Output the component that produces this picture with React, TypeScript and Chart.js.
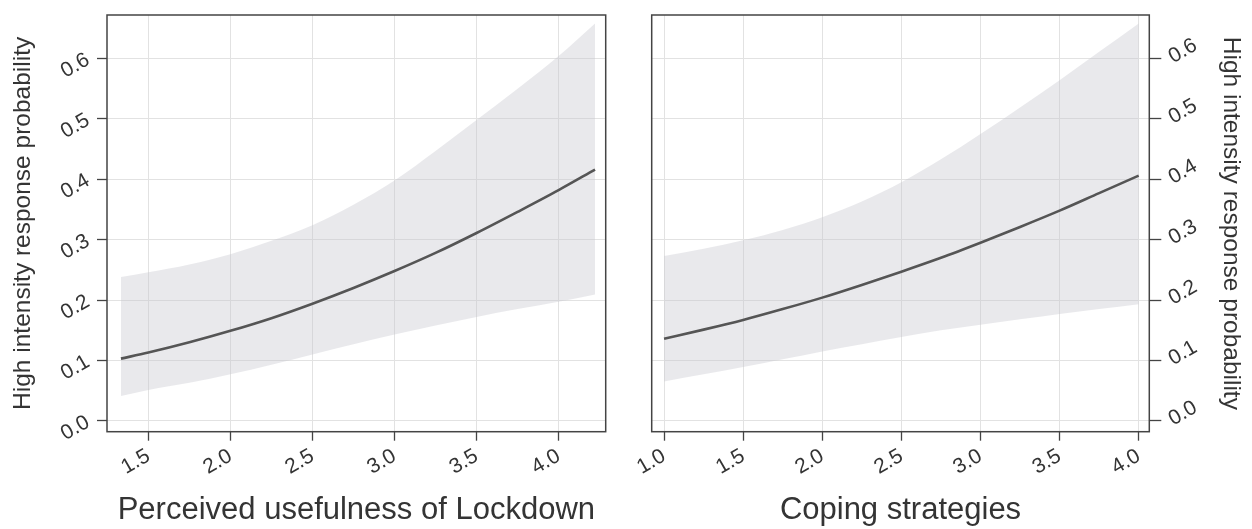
import React, { useEffect, useRef } from "react";
import { Chart, registerables } from "chart.js";

Chart.register(...registerables);

// ---- data ----
const LEFT_X = [1.333, 1.5, 1.75, 2.0, 2.25, 2.5, 2.75, 3.0, 3.25, 3.5, 3.75, 4.0, 4.222];
const LEFT_FIT = [0.103, 0.113, 0.13, 0.149, 0.17, 0.194, 0.22, 0.248, 0.278, 0.311, 0.346, 0.382, 0.416];
const LEFT_UPPER = [0.238, 0.246, 0.259, 0.276, 0.298, 0.324, 0.358, 0.398, 0.447, 0.498, 0.55, 0.604, 0.658];
const LEFT_LOWER = [0.041, 0.051, 0.063, 0.077, 0.093, 0.11, 0.127, 0.143, 0.158, 0.172, 0.185, 0.197, 0.209];

const RIGHT_X = [1.0, 1.25, 1.5, 1.75, 2.0, 2.25, 2.5, 2.75, 3.0, 3.25, 3.5, 3.75, 4.0];
const RIGHT_FIT = [0.136, 0.151, 0.167, 0.185, 0.204, 0.225, 0.247, 0.27, 0.295, 0.321, 0.348, 0.377, 0.406];
const RIGHT_UPPER = [0.273, 0.285, 0.299, 0.316, 0.337, 0.363, 0.395, 0.433, 0.475, 0.519, 0.564, 0.611, 0.658];
const RIGHT_LOWER = [0.065, 0.077, 0.089, 0.102, 0.115, 0.127, 0.139, 0.15, 0.159, 0.168, 0.177, 0.185, 0.193];

const LEFT_X_TICKS = [1.5, 2.0, 2.5, 3.0, 3.5, 4.0];
const RIGHT_X_TICKS = [1.0, 1.5, 2.0, 2.5, 3.0, 3.5, 4.0];
const Y_TICKS = [0.0, 0.1, 0.2, 0.3, 0.4, 0.5, 0.6];

const Y_TITLE = "High intensity response probability";
const LEFT_X_TITLE = "Perceived usefulness of Lockdown";
const RIGHT_X_TITLE = "Coping strategies";

// ---- styling ----
const FONT = "'Liberation Sans', Arial, Helvetica, sans-serif";
const TEXT = "#343434";
const GRID = "#e2e2e2";
const FRAME = "#444444";
const LINE = "#555555";
const BAND = "rgba(196,196,204,0.38)";

const framePlugin = {
  id: "frame",
  afterDatasetsDraw(chart: any) {
    const { ctx, chartArea } = chart;
    ctx.save();
    ctx.strokeStyle = FRAME;
    ctx.lineWidth = 1.5;
    ctx.strokeRect(chartArea.left, chartArea.top, chartArea.right - chartArea.left, chartArea.bottom - chartArea.top);
    ctx.restore();
  },
};

function pts(xs: number[], ys: number[]) {
  return xs.map((x, i) => ({ x, y: ys[i] }));
}

type Side = "left" | "right";

function makeConfig(side: Side): any {
  const isLeft = side === "left";
  const xs = isLeft ? LEFT_X : RIGHT_X;
  const fit = isLeft ? LEFT_FIT : RIGHT_FIT;
  const up = isLeft ? LEFT_UPPER : RIGHT_UPPER;
  const lo = isLeft ? LEFT_LOWER : RIGHT_LOWER;
  const xTicks = isLeft ? LEFT_X_TICKS : RIGHT_X_TICKS;

  return {
    type: "line",
    data: {
      datasets: [
        {
          label: "fit",
          data: pts(xs, fit),
          borderWidth: 2.6,
          borderColor: LINE,
          fill: false,
          pointRadius: 0,
          tension: 0.4,
          cubicInterpolationMode: "monotone",
        },
        {
          label: "upper",
          data: pts(xs, up),
          borderWidth: 0,
          borderColor: "rgba(0,0,0,0)",
          backgroundColor: BAND,
          fill: "+1",
          pointRadius: 0,
          tension: 0.4,
          cubicInterpolationMode: "monotone",
        },
        {
          label: "lower",
          data: pts(xs, lo),
          borderWidth: 0,
          borderColor: "rgba(0,0,0,0)",
          backgroundColor: BAND,
          fill: false,
          pointRadius: 0,
          tension: 0.4,
          cubicInterpolationMode: "monotone",
        },
      ],
    },
    options: {
      animation: false,
      responsive: false,
      maintainAspectRatio: false,
      devicePixelRatio: 1,
      layout: {
        padding: isLeft
          ? { left: 0, right: 20.3, top: 15, bottom: 0 }
          : { left: 25.7, right: 0, top: 15, bottom: 0 },
      },
      plugins: {
        legend: { display: false },
        tooltip: { enabled: false },
        filler: { drawTime: "beforeDatasetsDraw" },
      },
      scales: {
        x: {
          type: "linear",
          position: "bottom",
          min: isLeft ? 1.248 : 0.922,
          max: isLeft ? 4.287 : 4.067,
          afterBuildTicks: (scale: any) => {
            scale.ticks = xTicks.map((v) => ({ value: v }));
          },
          afterFit: (scale: any) => {
            scale.height = 97.3;
            scale.paddingLeft = 0;
            scale.paddingRight = 0;
          },
          border: { display: false },
          grid: {
            color: GRID,
            lineWidth: 1,
            tickColor: FRAME,
            tickLength: 9,
            tickWidth: 1.3,
            drawTicks: true,
          },
          ticks: {
            autoSkip: false,
            minRotation: 30,
            maxRotation: 30,
            padding: 3,
            color: TEXT,
            font: { family: FONT, size: 21 },
            callback: (v: any) => Number(v).toFixed(1),
          },
          title: {
            display: true,
            text: isLeft ? LEFT_X_TITLE : RIGHT_X_TITLE,
            color: TEXT,
            font: { family: FONT, size: 31 },
            padding: { top: 0, bottom: 0 },
          },
        },
        y: {
          type: "linear",
          position: isLeft ? "left" : "right",
          min: -0.018,
          max: 0.672,
          afterBuildTicks: (scale: any) => {
            scale.ticks = Y_TICKS.map((v) => ({ value: v }));
          },
          afterFit: (scale: any) => {
            scale.width = isLeft ? 107 : 102.7;
            scale.paddingTop = 0;
            scale.paddingBottom = 0;
          },
          border: { display: false },
          grid: {
            color: GRID,
            lineWidth: 1,
            tickColor: FRAME,
            tickLength: isLeft ? 10 : 12,
            tickWidth: 1.3,
            drawTicks: true,
          },
          ticks: {
            autoSkip: false,
            minRotation: 30,
            maxRotation: 30,
            padding: 9,
            color: TEXT,
            font: { family: FONT, size: 21 },
            callback: (v: any) => Number(v).toFixed(1),
          },
          title: {
            display: true,
            text: Y_TITLE,
            color: TEXT,
            font: { family: FONT, size: 24.5 },
            padding: { top: isLeft ? 9 : 6.6, bottom: 0 },
          },
        },
      },
    },
    plugins: [framePlugin],
  };
}

function Panel({ side, left }: { side: Side; left: number }) {
  const ref = useRef<HTMLCanvasElement | null>(null);
  useEffect(() => {
    if (!ref.current) return;
    const chart = new Chart(ref.current, makeConfig(side));
    return () => chart.destroy();
  }, [side]);
  return (
    <canvas
      ref={ref}
      width={626}
      height={529}
      style={{ position: "absolute", left, top: 0, width: 626, height: 529 }}
    />
  );
}

export default function App() {
  return (
    <div style={{ position: "fixed", left: 0, top: 0, width: 1252, height: 529, background: "#ffffff" }}>
      <Panel side="left" left={0} />
      <Panel side="right" left={626} />
    </div>
  );
}
